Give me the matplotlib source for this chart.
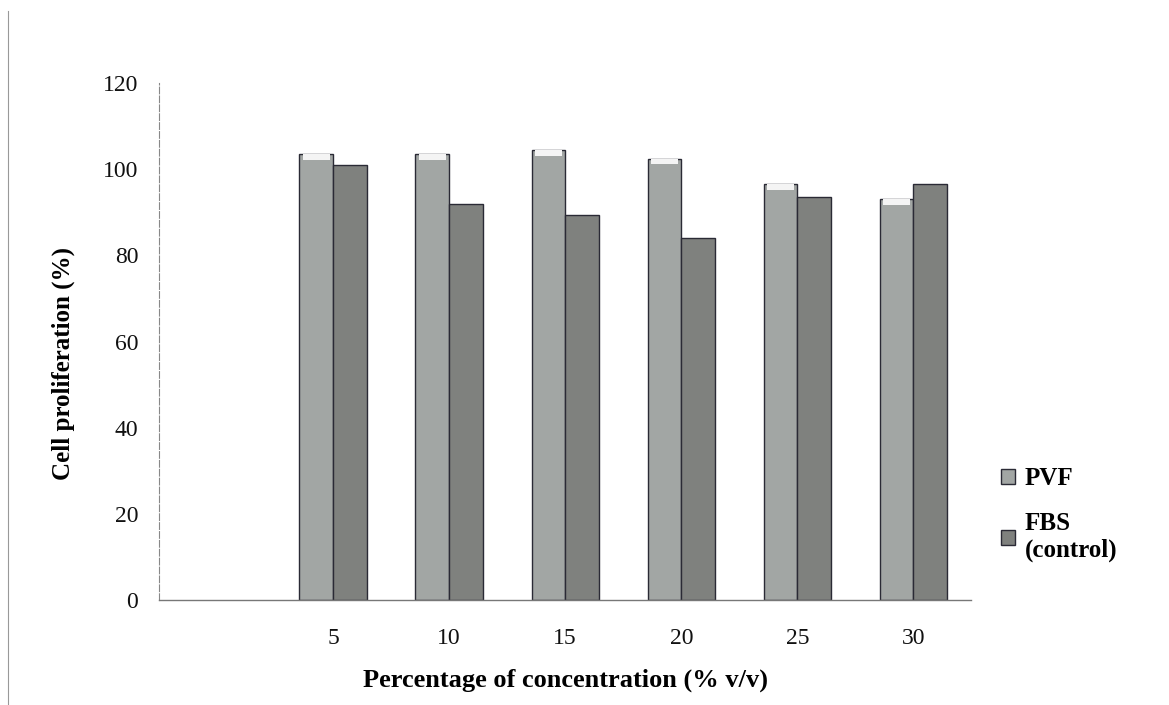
import matplotlib.pyplot as plt
import numpy as np

categories = ["", "5", "10", "15", "20", "25", "30"]
pvf = [np.nan, 103.5, 103.5, 104.5, 102.5, 96.5, 93]
fbs = [np.nan, 101, 92, 89.5, 84, 93.5, 96.5]

plt.rcParams['font.family'] = ['Liberation Serif', 'DejaVu Serif']

fig = plt.figure(figsize=(11.69, 7.05), dpi=100)
ax = fig.add_axes([0.136, 0.149, 0.695, 0.733])

x = np.arange(len(categories))
w = 0.29
b1 = ax.bar(x - w / 2, pvf, w, color="#a2a6a4", edgecolor="#2a2a35", linewidth=1.0, label="PVF")
b2 = ax.bar(x + w / 2, fbs, w, color="#7f817e", edgecolor="#2a2a35", linewidth=1.0, label="FBS\n(control)")

# light cap on the cylinder-like PVF bars
for xi, v in zip(x, pvf):
    if v > 0:
        ax.bar(xi - w / 2, 1.3, w * 0.8, bottom=v - 1.3, color="#f4f4f4", linewidth=0)

ax.set_xlim(-0.5, 6.5)
ax.set_ylim(0, 120)
ax.set_yticks(np.arange(0, 121, 20))
ax.set_xticks(x)
ax.set_xticklabels(categories)
ax.tick_params(axis="both", length=0, labelsize=17, colors="#111111")
ax.tick_params(axis="y", pad=15)
ax.tick_params(axis="x", pad=20)

for s in ["top", "right"]:
    ax.spines[s].set_visible(False)
ax.spines["left"].set_color("#888888")
ax.spines["left"].set_linestyle((0, (6, 2)))
ax.spines["left"].set_linewidth(0.8)
ax.spines["bottom"].set_color("#777777")
ax.spines["bottom"].set_linewidth(1.0)

ax.set_ylabel("Cell proliferation (%)", fontsize=18, fontweight="bold")
ax.yaxis.set_label_coords(-0.103, 0.458)
ax.set_xlabel("Percentage of concentration (% v/v)", fontsize=19, fontweight="bold", labelpad=14)

fig.legend(handles=[b1, b2], loc="center left", bbox_to_anchor=(0.837, 0.27),
           frameon=False, prop={"weight": "bold", "size": 18},
           handlelength=0.55, handleheight=0.55, handletextpad=0.4, labelspacing=0.9)

# scan border line on the left
fig.add_artist(plt.Line2D([0.007, 0.007], [0.0, 0.985], color="#999999", lw=0.8))

fig.savefig("out.png", dpi=100)
